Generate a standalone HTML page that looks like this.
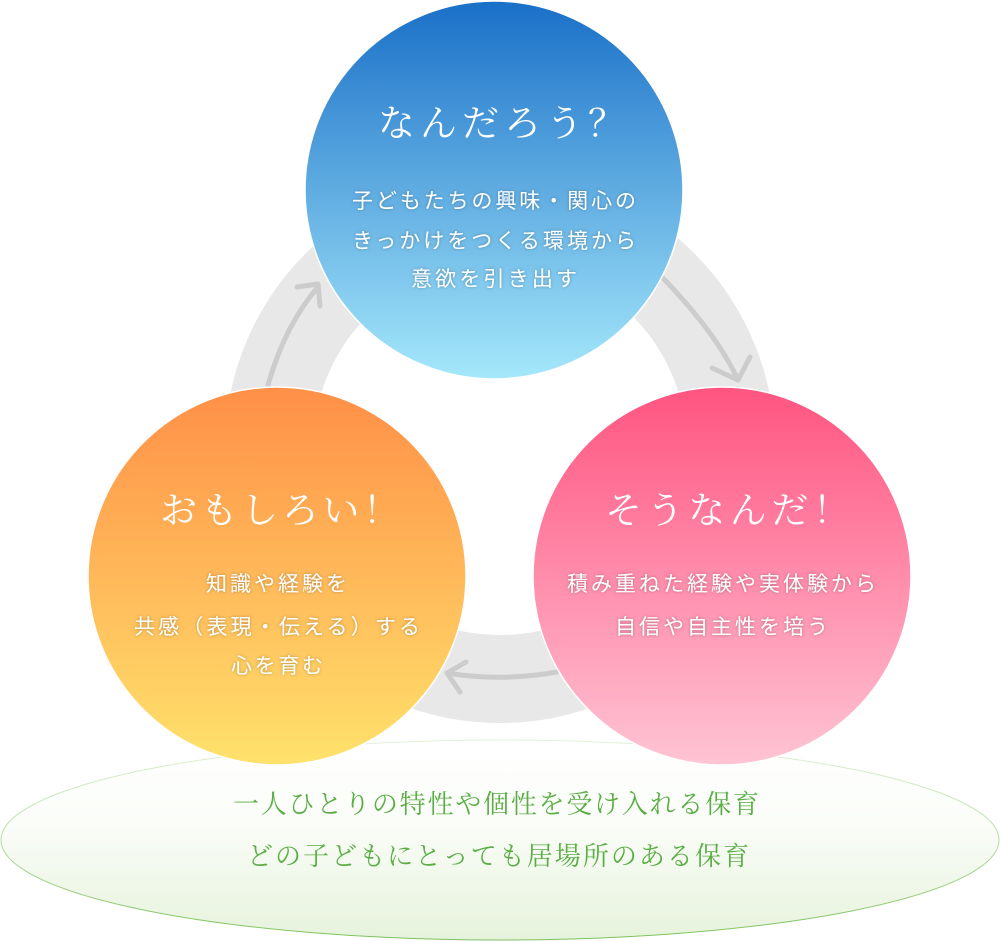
<!DOCTYPE html>
<html><head><meta charset="utf-8"><style>
html,body{margin:0;padding:0;background:#fff;}
svg{display:block;}
.t{font-family:"Liberation Serif","Noto Serif CJK SC",serif;fill:#fff;font-size:37px;}
.b{font-family:"Liberation Sans","Noto Sans CJK JP",sans-serif;fill:#fff;font-size:21px;filter:url(#sh);}
.g{font-family:"Liberation Serif","Noto Serif CJK SC",serif;fill:#5aae45;font-size:26px;}
</style></head><body>
<svg width="1000" height="941" viewBox="0 0 1000 941" xmlns="http://www.w3.org/2000/svg">
<defs>
<linearGradient id="gt" x1="0" y1="0" x2="0" y2="1"><stop offset="0" stop-color="#1a70c8"/><stop offset="1" stop-color="#a5e8fb"/></linearGradient>
<linearGradient id="gl" x1="0" y1="0" x2="0" y2="1"><stop offset="0" stop-color="#ff8f47"/><stop offset="1" stop-color="#ffe26c"/></linearGradient>
<linearGradient id="gr" x1="0" y1="0" x2="0" y2="1"><stop offset="0" stop-color="#ff5480"/><stop offset="1" stop-color="#ffc4d5"/></linearGradient>
<linearGradient id="ge" x1="0" y1="0" x2="0" y2="1"><stop offset="0" stop-color="#ffffff"/><stop offset="0.4" stop-color="#fbfdf9"/><stop offset="1" stop-color="#e6f3dc"/></linearGradient>
<linearGradient id="gs" x1="0" y1="0" x2="0" y2="1"><stop offset="0" stop-color="#e3f1da"/><stop offset="0.5" stop-color="#b6dca0"/><stop offset="1" stop-color="#7cc25c"/></linearGradient>
<filter id="sh" x="-10%" y="-30%" width="120%" height="160%"><feDropShadow dx="0" dy="0" stdDeviation="1.5" flood-color="#000" flood-opacity="0.3"/></filter>
</defs>
<ellipse cx="500" cy="840" rx="499" ry="100" fill="url(#ge)" stroke="url(#gs)" stroke-width="1"/>
<circle cx="500" cy="448" r="231" fill="none" stroke="#e8e8e8" stroke-width="88"/>
<g fill="none" stroke="#cccccc" stroke-width="5" stroke-linecap="round" stroke-linejoin="round">
<path d="M268 385 Q285 325 318 287"/><path d="M297 287 L318 284 L320 306"/>
<path d="M655 270 Q715 330 738 380"/><path d="M712 368 L738 380 L750 357"/>
<path d="M557 672 Q500 682 447 673"/><path d="M466 662 L447 673 L460 692"/>
</g>
<circle cx="494" cy="190" r="189" fill="url(#gt)" stroke="#fff" stroke-width="1.5"/>
<circle cx="277" cy="576" r="189" fill="url(#gl)" stroke="#fff" stroke-width="1.5"/>
<circle cx="722" cy="576" r="189" fill="url(#gr)" stroke="#fff" stroke-width="1.5"/>
<text class="t" x="378" y="136" textLength="247" lengthAdjust="spacing">なんだろう？</text>
<text class="b" x="352" y="208" textLength="284" lengthAdjust="spacing">子どもたちの興味・関心の</text>
<text class="b" x="352" y="248" textLength="284" lengthAdjust="spacing">きっかけをつくる環境から</text>
<text class="b" x="411" y="286" textLength="166" lengthAdjust="spacing">意欲を引き出す</text>
<text class="t" x="160" y="523" textLength="240" lengthAdjust="spacing">おもしろい！</text>
<text class="b" x="206" y="591" textLength="141" lengthAdjust="spacing">知識や経験を</text>
<text class="b" x="134" y="634" textLength="286" lengthAdjust="spacing">共感（表現・伝える）する</text>
<text class="b" x="231" y="673" textLength="92" lengthAdjust="spacing">心を育む</text>
<text class="t" x="605" y="523" textLength="245" lengthAdjust="spacing">そうなんだ！</text>
<text class="b" x="567" y="591" textLength="309" lengthAdjust="spacing">積み重ねた経験や実体験から</text>
<text class="b" x="615" y="634" textLength="213" lengthAdjust="spacing">自信や自主性を培う</text>
<text class="g" x="233" y="813" textLength="526" lengthAdjust="spacing">一人ひとりの特性や個性を受け入れる保育</text>
<text class="g" x="247" y="865" textLength="502" lengthAdjust="spacing">どの子どもにとっても居場所のある保育</text>
</svg>
</body></html>
